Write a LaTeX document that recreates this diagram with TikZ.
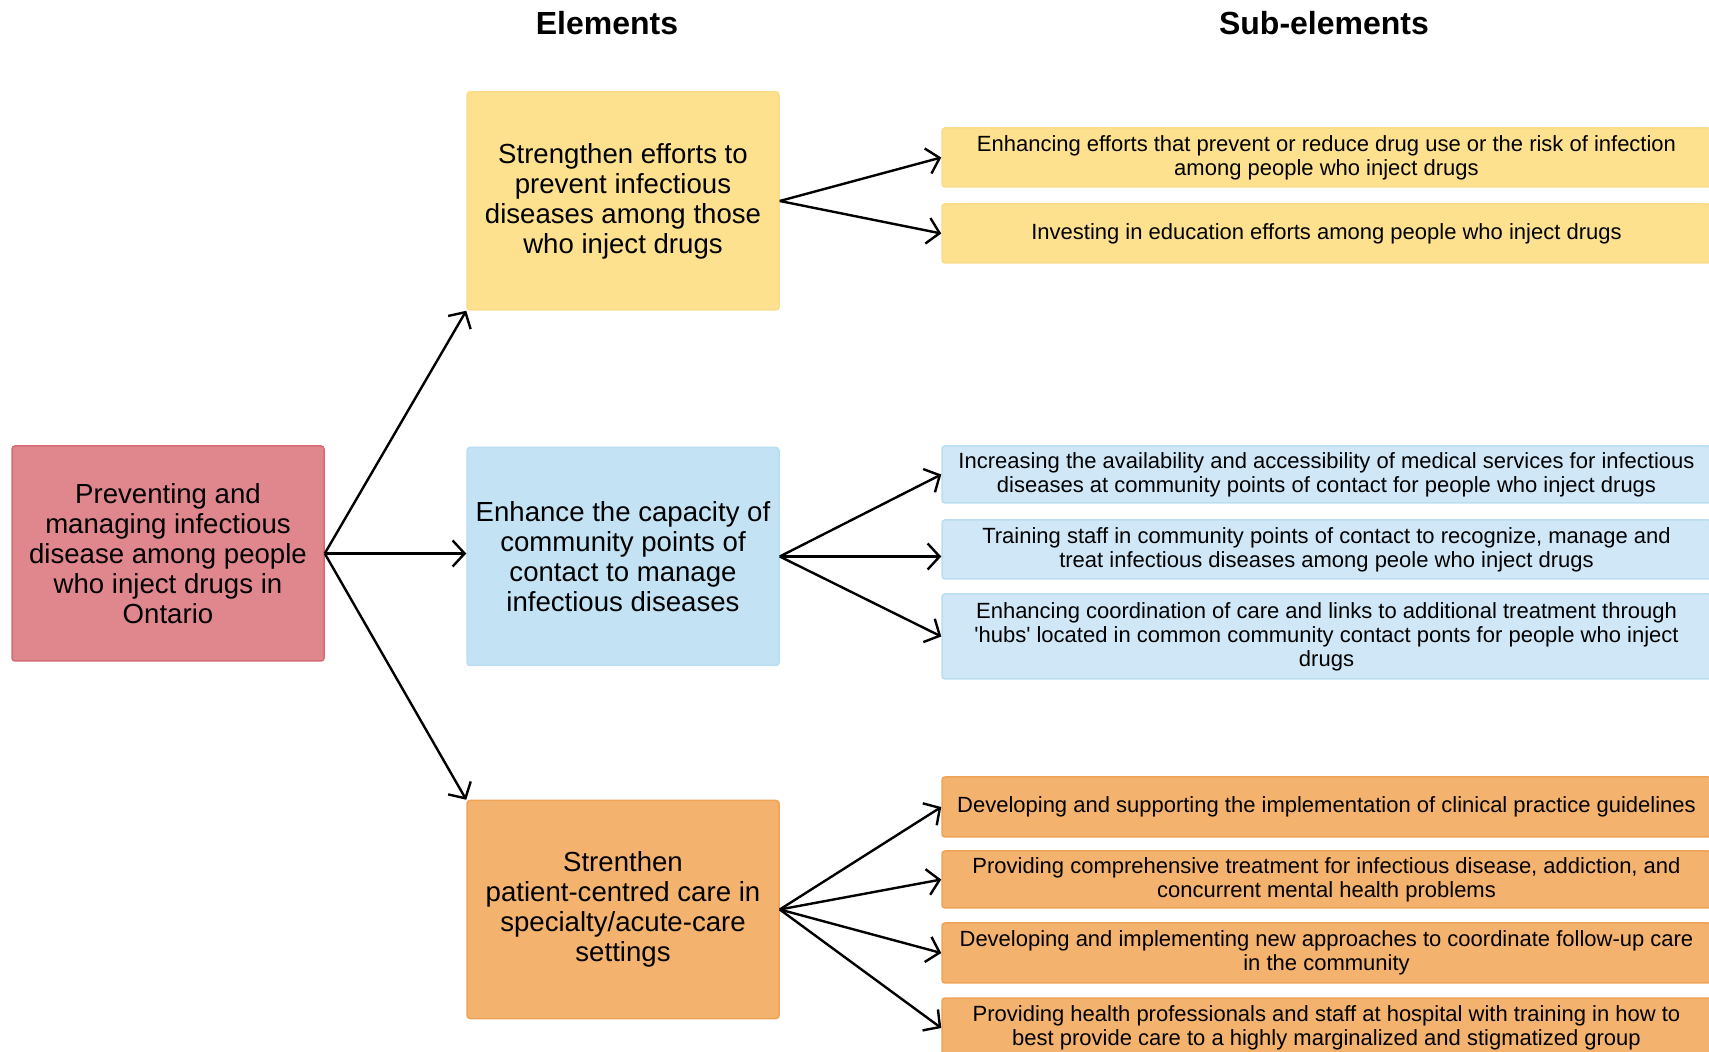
\documentclass[tikz,border=0pt]{standalone}
\usepackage{fontspec}
\setmainfont{Liberation Sans}[Ligatures=TeXOff]
\usetikzlibrary{arrows.meta}
\definecolor{rootfill}{HTML}{E0878E}
\definecolor{rootdraw}{HTML}{D46A73}
\definecolor{yelfill}{HTML}{FDE18E}
\definecolor{yeldraw}{HTML}{FBDC88}
\definecolor{bluefill}{HTML}{C3E3F5}
\definecolor{bluedraw}{HTML}{BADDF1}
\definecolor{subblue}{HTML}{CFE7F6}
\definecolor{orfill}{HTML}{F3B26E}
\definecolor{ordraw}{HTML}{EFA356}
\begin{document}
\begin{tikzpicture}[x=0.5pt,y=-0.5pt,
  box/.style={rounded corners=1.5pt,line width=0.75pt,align=center,inner sep=0pt},
  elem/.style={box,minimum width=156pt,minimum height=109pt,font=\fontsize{13.8}{15}\selectfont},
  sub/.style={box,minimum width=384.5pt,minimum height=29.5pt,font=\fontsize{11}{12}\selectfont},
  head/.style={font=\fontsize{16}{18}\selectfont\bfseries},
  link/.style={line width=1.2pt,-{Straight Barb[length=6pt,width=13pt]}}]
\useasboundingbox (0,0) rectangle (1709,1052);
\clip (0,0) rectangle (1709,1052);
\node[head] (hdelem) at (607,23) {Elements};
\node[head] (hdsub) at (1324,23) {Sub-elements};
\node[box,fill=rootfill,draw=rootdraw,minimum width=156pt,minimum height=107.5pt,font=\fontsize{13.8}{15}\selectfont] (root) at (168,553.5)
  {Preventing and\\managing infectious\\disease among people\\who inject drugs in\\Ontario};
\node[elem,fill=yelfill,draw=yeldraw] (e1) at (623,201)
  {Strengthen efforts to\\prevent infectious\\diseases among those\\who inject drugs};
\node[elem,fill=bluefill,draw=bluedraw] (e2) at (623,556.5)
  {Enhance the capacity of\\community points of\\contact to manage\\infectious diseases};
\node[elem,fill=orfill,draw=ordraw] (e3) at (623,909.5)
  {Strenthen\\patient-centred care in\\specialty/acute-care\\settings};
\node[sub,fill=yelfill,draw=yeldraw] (s11) at (1326.5,157.5)
  {Enhancing efforts that prevent or reduce drug use or the risk of infection\\among people who inject drugs};
\node[sub,fill=yelfill,draw=yeldraw] (s12) at (1326.5,233.5)
  {Investing in education efforts among people who inject drugs};
\node[sub,fill=subblue,draw=bluedraw,minimum height=28.5pt] (s21) at (1326.5,474.5)
  {Increasing the availability and accessibility of medical services for infectious\\diseases at community points of contact for people who inject drugs};
\node[sub,fill=subblue,draw=bluedraw] (s22) at (1326.5,549.5)
  {Training staff in community points of contact to recognize, manage and\\treat infectious diseases among peole who inject drugs};
\node[sub,fill=subblue,draw=bluedraw,minimum height=42.5pt] (s23) at (1326.5,636.5)
  {Enhancing coordination of care and links to additional treatment through\\'hubs' located in common community contact ponts for people who inject\\drugs};
\node[sub,fill=orfill,draw=ordraw,minimum height=30pt] (s31) at (1326.5,807)
  {Developing and supporting the implementation of clinical practice guidelines};
\node[sub,fill=orfill,draw=ordraw,minimum height=28.5pt] (s32) at (1326.5,879.5)
  {Providing comprehensive treatment for infectious disease, addiction, and\\concurrent mental health problems};
\node[sub,fill=orfill,draw=ordraw,minimum height=30pt] (s33) at (1326.5,953)
  {Developing and implementing new approaches to coordinate follow-up care\\in the community};
\node[sub,fill=orfill,draw=ordraw,minimum height=30pt] (s34) at (1326.5,1028)
  {Providing health professionals and staff at hospital with training in how to\\best provide care to a highly marginalized and stigmatized group};
\draw[link] (root.east) -- (e1.south west);
\draw[link] (root.east) -- (root.east -| e2.west);
\draw[link] (root.east) -- (e3.north west);
\draw[link] (e1.east) -- (s11.west);
\draw[link] (e1.east) -- (s12.west);
\draw[link] (e2.east) -- (s21.west);
\draw[link] (e2.east) -- (e2.east -| s22.west);
\draw[link] (e2.east) -- (s23.west);
\draw[link] (e3.east) -- (s31.west);
\draw[link] (e3.east) -- (s32.west);
\draw[link] (e3.east) -- (s33.west);
\draw[link] (e3.east) -- (s34.west);
\end{tikzpicture}
\end{document}
